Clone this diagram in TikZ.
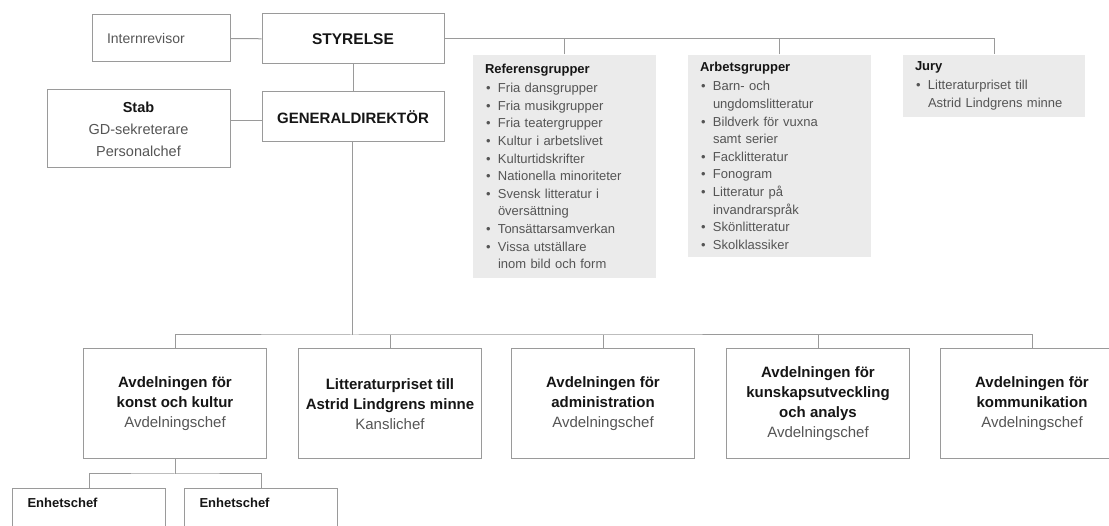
\documentclass[tikz,border=0pt]{standalone}
\usepackage{fontspec}
\setmainfont{Liberation Sans}
\usepackage{tikz}

\definecolor{linegray}{HTML}{9A9A9A}
\definecolor{boxfill}{HTML}{EBEBEB}
\definecolor{txtgray}{HTML}{555555}
\definecolor{ink}{HTML}{151515}

\newcommand{\hd}[1]{\textcolor{ink}{\bfseries #1}}
\newcommand{\itm}[1]{\makebox[13pt][l]{\hspace{1pt}\textbullet}#1}
\newcommand{\cnt}[1]{\hspace*{13pt}#1}

\begin{document}
\begin{tikzpicture}[x=1pt, y=-1pt, line width=1pt,
    box/.style={draw=linegray, text=txtgray, align=center, inner sep=0pt},
    grp/.style={fill=boxfill, text=txtgray, align=left, inner xsep=12pt, inner ysep=0pt,
      font=\fontsize{13}{17.6}\selectfont},
    wire/.style={draw=linegray}]
    \useasboundingbox (0, 0) rectangle (1109, 526);

    % ledning
    \node [box, minimum width=182, minimum height=50, font=\fontsize{15.5}{20}\selectfont] (styrelse) at (353, 39) {\hd{STYRELSE}};
    \node [box, minimum width=182, minimum height=50, font=\fontsize{15}{20}\selectfont] (gd) at (353, 117) {\hd{GENERALDIREKTÖR}};
    \node [box, minimum width=138, minimum height=47, text width=108, align=left, font=\fontsize{14}{20}\selectfont] (intern) at (161, 38.5) {Internrevisor};
    \node [box, minimum width=183, minimum height=78, font=\fontsize{14.5}{22}\selectfont] (stab) at (138.5, 129) {\hd{Stab}\\GD-sekreterare\\Personalchef};

    % grupper
    \node [grp, text width=159, minimum height=223] (ref) at (564.5, 166.5) {\hd{Referensgrupper}\\[1.5pt]
      \itm{Fria dansgrupper}\\ \itm{Fria musikgrupper}\\ \itm{Fria teatergrupper}\\
      \itm{Kultur i arbetslivet}\\ \itm{Kulturtidskrifter}\\ \itm{Nationella minoriteter}\\
      \itm{Svensk litteratur i}\\ \cnt{översättning}\\ \itm{Tonsättarsamverkan}\\
      \itm{Vissa utställare}\\ \cnt{inom bild och form}};
    \node [grp, text width=159, minimum height=202] (arb) at (779.5, 156) {\hd{Arbetsgrupper}\\[1.5pt]
      \itm{Barn- och}\\ \cnt{ungdomslitteratur}\\ \itm{Bildverk för vuxna}\\ \cnt{samt serier}\\
      \itm{Facklitteratur}\\ \itm{Fonogram}\\ \itm{Litteratur på}\\ \cnt{invandrarspråk}\\
      \itm{Skönlitteratur}\\ \itm{Skolklassiker}};
    \node [grp, text width=158, minimum height=62] (jury) at (994, 86) {\hd{Jury}\\[1.5pt]
      \itm{Litteraturpriset till}\\ \cnt{Astrid Lindgrens minne}};

    % avdelningar
    \foreach \n/\x/\t in {avd1/175/{\hd{Avdelningen för}\\\hd{konst och kultur}\\Avdelningschef},
        avd2/390/{\hd{Litteraturpriset till}\\\hd{Astrid Lindgrens minne}\\Kanslichef},
        avd3/603/{\hd{Avdelningen för}\\\hd{administration}\\Avdelningschef},
        avd4/818/{\hd{Avdelningen för}\\\hd{kunskapsutveckling}\\\hd{och analys}\\Avdelningschef},
        avd5/1032/{\hd{Avdelningen för}\\\hd{kommunikation}\\Avdelningschef}}
      \node [box, minimum width=183, minimum height=110, font=\fontsize{15}{20}\selectfont] (\n) at (\x, 404) {\t};

    \node [box, anchor=north west, minimum width=153, text width=123, align=left, inner xsep=15pt, inner ysep=9pt,
      text height=10pt, text depth=60pt, font=\fontsize{13}{17}\selectfont] (enh1) at (12, 488) {\hd{Enhetschef}};
    \node [box, anchor=north west, minimum width=153, text width=123, align=left, inner xsep=15pt, inner ysep=9pt,
      text height=10pt, text depth=60pt, font=\fontsize{13}{17}\selectfont] (enh2) at (184, 488) {\hd{Enhetschef}};

    \coordinate (bus) at (352, 335);
    \coordinate (subbus) at (175, 474);
    \coordinate (stabline) at (262, 121);

    % linjer
    \draw [wire] (intern) -- (styrelse);
    \draw [wire] (styrelse) -- (gd);
    \draw [wire] (stab.east |- stabline) -- (stabline);
    \draw [wire] (styrelse.east) -| (jury.north);
    \draw [wire] (ref.north) -- (ref.north |- styrelse.east);
    \draw [wire] (arb.north) -- (arb.north |- styrelse.east);
    \draw [wire] (gd.south -| bus) -- (bus);
    \draw [wire] (avd1.north) |- (bus) -| (avd5.north);
    \foreach \n in {avd2, avd3, avd4}
      \draw [wire] (\n.north) -- (\n.north |- bus);
    \draw [wire] (avd1.south) -- (subbus);
    \draw [wire] (enh1.north) |- (subbus) -| (enh2.north);
\end{tikzpicture}
\end{document}
